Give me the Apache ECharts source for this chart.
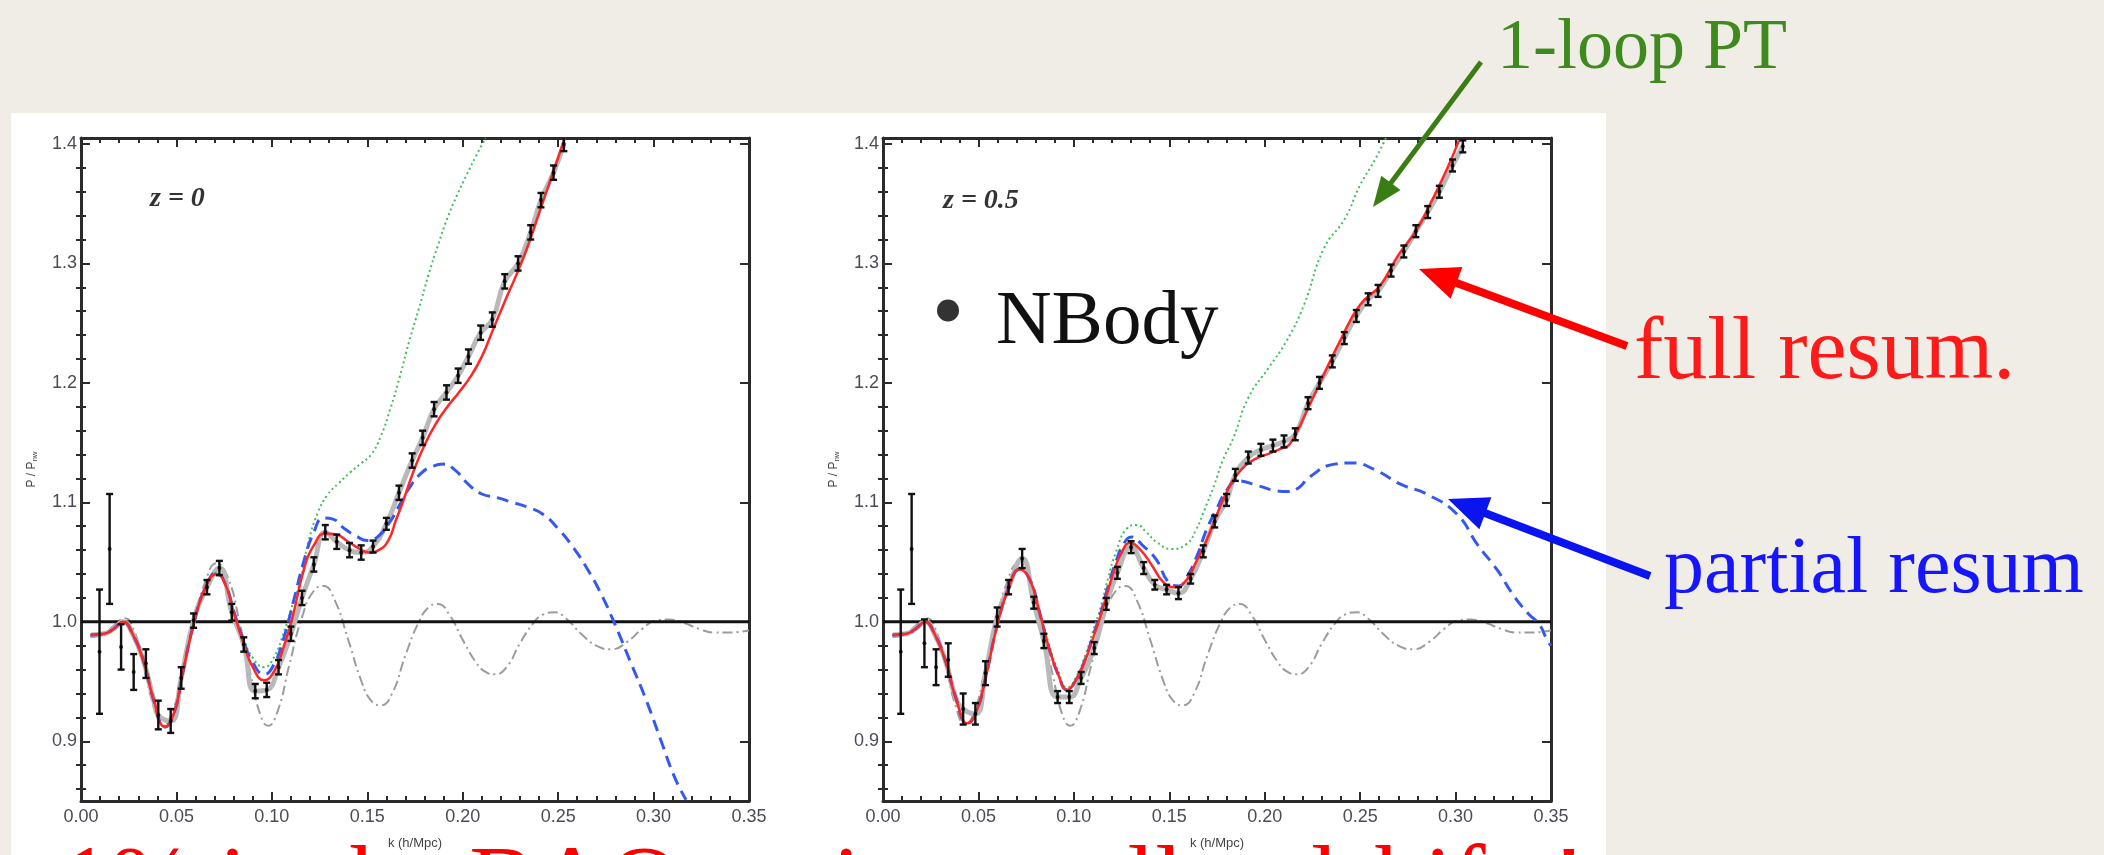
<!DOCTYPE html>
<html>
<head>
<meta charset="utf-8">
<script src="https://cdn.jsdelivr.net/npm/echarts@6/dist/echarts.min.js"></script>
<style>
  html, body { margin: 0; padding: 0; background: #f0ece6; }
  #chart { width: 2104px; height: 855px; }
</style>
</head>
<body>
<div id="chart"></div>
<script>
// ---- axis ticks ----
const kTickLabels = [0.00, 0.05, 0.10, 0.15, 0.20, 0.25, 0.30, 0.35];
const yMajorTicks = [0.9, 1.0, 1.1, 1.2, 1.3, 1.4];
const yMinorTicks = [0.86, 0.88, 0.92, 0.94, 0.96, 0.98, 1.02, 1.04, 1.06, 1.08,
                     1.12, 1.14, 1.16, 1.18, 1.22, 1.24, 1.26, 1.28, 1.32, 1.34, 1.36, 1.38];
const Y_MIN = 0.85, Y_MAX = 1.405;

// ---- linear-theory wiggles P_lin / P_nw (same in both panels) ----
const linearWiggles = [
  [0.005, 0.987], [0.012, 0.990], [0.018, 0.998], [0.023, 1.003], [0.028, 0.992],
  [0.033, 0.962], [0.038, 0.930], [0.043, 0.914], [0.048, 0.925], [0.053, 0.957],
  [0.059, 0.998], [0.065, 1.033], [0.071, 1.049], [0.077, 1.037], [0.083, 1.000],
  [0.089, 0.955], [0.094, 0.922], [0.098, 0.913], [0.103, 0.925], [0.109, 0.963],
  [0.116, 1.005], [0.122, 1.026], [0.127, 1.030], [0.133, 1.018], [0.140, 0.985],
  [0.147, 0.950], [0.152, 0.934], [0.157, 0.930], [0.163, 0.940], [0.170, 0.972],
  [0.177, 1.000], [0.182, 1.012], [0.187, 1.015], [0.193, 1.006], [0.200, 0.985],
  [0.207, 0.966], [0.212, 0.958], [0.217, 0.956], [0.223, 0.962], [0.230, 0.982],
  [0.237, 0.999], [0.242, 1.006], [0.248, 1.008], [0.254, 1.003], [0.262, 0.990],
  [0.270, 0.980], [0.278, 0.977], [0.286, 0.983], [0.294, 0.994], [0.301, 1.001],
  [0.308, 1.002], [0.316, 0.999], [0.324, 0.994], [0.332, 0.991], [0.340, 0.991],
  [0.350, 0.993]
];
const unityLine = [[0, 1.0], [0.35, 1.0]];

// ---- z = 0 ----
const fullResumZ0 = [
  [0.005, 0.989], [0.012, 0.990], [0.017, 0.994], [0.022, 1.000], [0.027, 0.990],
  [0.033, 0.966], [0.038, 0.935], [0.044, 0.912], [0.049, 0.925], [0.053, 0.955],
  [0.059, 0.998], [0.065, 1.028], [0.071, 1.040], [0.076, 1.030], [0.080, 1.008],
  [0.085, 0.983], [0.090, 0.962], [0.096, 0.951], [0.101, 0.958], [0.106, 0.978],
  [0.111, 1.005], [0.117, 1.045], [0.122, 1.064], [0.128, 1.074], [0.134, 1.073],
  [0.140, 1.067], [0.146, 1.061], [0.151, 1.058], [0.156, 1.060], [0.161, 1.068],
  [0.165, 1.085], [0.169, 1.102], [0.174, 1.125], [0.180, 1.148], [0.186, 1.166],
  [0.192, 1.180], [0.198, 1.192], [0.204, 1.205], [0.210, 1.222], [0.216, 1.245],
  [0.222, 1.268], [0.228, 1.290], [0.234, 1.314], [0.240, 1.342], [0.246, 1.370],
  [0.2535, 1.405]
];
const oneLoopZ0 = [
  [0.005, 0.989], [0.012, 0.990], [0.017, 0.994], [0.022, 1.000], [0.027, 0.990],
  [0.033, 0.966], [0.038, 0.935], [0.044, 0.913], [0.049, 0.926], [0.053, 0.956],
  [0.059, 0.999], [0.065, 1.029], [0.071, 1.041], [0.076, 1.031], [0.080, 1.010],
  [0.085, 0.987], [0.090, 0.970], [0.096, 0.962], [0.101, 0.970], [0.106, 0.990],
  [0.111, 1.015], [0.115, 1.035], [0.119, 1.066], [0.124, 1.091], [0.129, 1.106],
  [0.135, 1.116], [0.141, 1.125], [0.147, 1.133], [0.152, 1.140], [0.157, 1.155],
  [0.162, 1.178], [0.167, 1.205], [0.172, 1.235], [0.177, 1.262], [0.182, 1.290],
  [0.187, 1.315], [0.192, 1.338], [0.197, 1.357], [0.202, 1.374], [0.207, 1.390],
  [0.212, 1.405]
];
const partialResumZ0 = [
  [0.005, 0.989], [0.012, 0.990], [0.017, 0.994], [0.022, 1.000], [0.027, 0.990],
  [0.033, 0.966], [0.038, 0.935], [0.044, 0.912], [0.049, 0.925], [0.053, 0.955],
  [0.059, 0.998], [0.065, 1.028], [0.071, 1.041], [0.076, 1.030], [0.080, 1.009],
  [0.085, 0.985], [0.090, 0.966], [0.096, 0.956], [0.101, 0.964], [0.106, 0.985],
  [0.111, 1.015], [0.117, 1.052], [0.122, 1.075], [0.127, 1.087], [0.132, 1.086],
  [0.138, 1.078], [0.144, 1.072], [0.150, 1.068], [0.156, 1.072], [0.162, 1.084],
  [0.167, 1.098], [0.172, 1.112], [0.178, 1.124], [0.184, 1.130], [0.190, 1.132],
  [0.196, 1.127], [0.203, 1.115], [0.210, 1.107], [0.218, 1.104], [0.226, 1.100],
  [0.234, 1.096], [0.242, 1.090], [0.250, 1.078], [0.258, 1.062], [0.265, 1.045],
  [0.272, 1.025], [0.280, 0.997], [0.288, 0.966], [0.296, 0.935], [0.304, 0.900],
  [0.311, 0.870], [0.317, 0.851]
];
// N-body measurements: [k, P/P_nw, 1-sigma]
const nbodyZ0 = [
  [0.0097, 0.975, 0.052], [0.0150, 1.061, 0.046], [0.0210, 0.979, 0.019],
  [0.0276, 0.958, 0.015], [0.0340, 0.965, 0.012], [0.0405, 0.922, 0.012],
  [0.0470, 0.917, 0.010], [0.0525, 0.953, 0.009], [0.0590, 1.001, 0.006],
  [0.0660, 1.029, 0.006], [0.0725, 1.045, 0.006], [0.0790, 1.008, 0.007],
  [0.0853, 0.981, 0.006], [0.0913, 0.942, 0.006], [0.0973, 0.943, 0.006],
  [0.1035, 0.962, 0.006], [0.1100, 0.990, 0.006], [0.1158, 1.020, 0.006],
  [0.1220, 1.048, 0.006], [0.1280, 1.075, 0.006], [0.1340, 1.067, 0.006],
  [0.1407, 1.060, 0.006], [0.1468, 1.058, 0.006], [0.1530, 1.063, 0.005],
  [0.1600, 1.082, 0.005], [0.1666, 1.108, 0.006], [0.1735, 1.135, 0.006],
  [0.1790, 1.154, 0.006], [0.1850, 1.178, 0.006], [0.1915, 1.192, 0.006],
  [0.1976, 1.206, 0.006], [0.2030, 1.222, 0.006], [0.2094, 1.242, 0.006],
  [0.2155, 1.253, 0.006], [0.2220, 1.285, 0.006], [0.2290, 1.300, 0.006],
  [0.2356, 1.326, 0.006], [0.2410, 1.353, 0.006], [0.2476, 1.376, 0.006],
  [0.2530, 1.400, 0.006]
];

// ---- z = 0.5 ----
const fullResumZ05 = [
  [0.005, 0.989], [0.012, 0.990], [0.017, 0.994], [0.022, 1.000], [0.027, 0.990],
  [0.033, 0.966], [0.038, 0.937], [0.0443, 0.915], [0.049, 0.925], [0.054, 0.955],
  [0.060, 0.998], [0.066, 1.029], [0.0716, 1.044], [0.077, 1.035], [0.082, 1.008],
  [0.087, 0.978], [0.092, 0.955], [0.0964, 0.943], [0.101, 0.951], [0.106, 0.968],
  [0.110, 0.986], [0.114, 1.005], [0.118, 1.027], [0.121, 1.042], [0.125, 1.058],
  [0.1295, 1.066], [0.135, 1.060], [0.141, 1.047], [0.147, 1.033], [0.1528, 1.029],
  [0.159, 1.035], [0.164, 1.050], [0.1695, 1.068], [0.1745, 1.088], [0.1793, 1.106],
  [0.1845, 1.121], [0.190, 1.131], [0.196, 1.137], [0.2026, 1.141], [0.2085, 1.145],
  [0.2126, 1.148], [0.2165, 1.158], [0.2205, 1.171], [0.2284, 1.198], [0.2394, 1.235],
  [0.2498, 1.265], [0.2607, 1.282], [0.270, 1.307], [0.2792, 1.327], [0.2874, 1.352],
  [0.2955, 1.379], [0.3018, 1.403]
];
const oneLoopZ05 = [
  [0.005, 0.989], [0.012, 0.990], [0.017, 0.994], [0.022, 1.000], [0.027, 0.990],
  [0.033, 0.966], [0.038, 0.937], [0.0443, 0.915], [0.049, 0.926], [0.054, 0.956],
  [0.060, 0.999], [0.066, 1.030], [0.0716, 1.045], [0.077, 1.036], [0.082, 1.010],
  [0.087, 0.981], [0.092, 0.958], [0.0964, 0.945], [0.101, 0.953], [0.106, 0.972],
  [0.110, 0.992], [0.114, 1.012], [0.118, 1.037], [0.122, 1.058], [0.1277, 1.078],
  [0.133, 1.081], [0.138, 1.075], [0.1432, 1.067], [0.151, 1.061], [0.159, 1.065],
  [0.164, 1.077], [0.1685, 1.094], [0.1737, 1.115], [0.178, 1.135], [0.1836, 1.154],
  [0.1914, 1.1875], [0.202, 1.2125], [0.2114, 1.235], [0.2205, 1.265], [0.231, 1.3125],
  [0.242, 1.3375], [0.2498, 1.365], [0.258, 1.3875], [0.2635, 1.405]
];
const partialResumZ05 = [
  [0.005, 0.989], [0.012, 0.990], [0.017, 0.994], [0.022, 1.000], [0.027, 0.990],
  [0.033, 0.966], [0.038, 0.937], [0.0443, 0.915], [0.049, 0.925], [0.054, 0.955],
  [0.060, 0.998], [0.066, 1.029], [0.0716, 1.044], [0.077, 1.035], [0.082, 1.008],
  [0.087, 0.978], [0.092, 0.955], [0.0964, 0.943], [0.101, 0.951], [0.106, 0.969],
  [0.110, 0.988], [0.114, 1.007], [0.118, 1.030], [0.122, 1.050], [0.126, 1.065],
  [0.1303, 1.071], [0.136, 1.064], [0.1432, 1.052], [0.1497, 1.033], [0.155, 1.030],
  [0.159, 1.037], [0.1645, 1.055], [0.1695, 1.077], [0.175, 1.095], [0.180, 1.110],
  [0.1857, 1.118], [0.1964, 1.114], [0.205, 1.110], [0.212, 1.109], [0.218, 1.1125],
  [0.2233, 1.121], [0.2366, 1.132], [0.246, 1.133], [0.258, 1.127], [0.2714, 1.115],
  [0.2848, 1.107], [0.3008, 1.090], [0.3113, 1.065], [0.322, 1.043], [0.330, 1.023],
  [0.338, 1.007], [0.3438, 0.998], [0.3479, 0.985], [0.350, 0.980]
];
const nbodyZ05 = [
  [0.0093, 0.975, 0.052], [0.0150, 1.061, 0.046], [0.0217, 0.982, 0.020],
  [0.0278, 0.962, 0.015], [0.0342, 0.968, 0.014], [0.0420, 0.927, 0.013],
  [0.0484, 0.923, 0.009], [0.0537, 0.957, 0.010], [0.0598, 1.004, 0.008],
  [0.0658, 1.029, 0.006], [0.0729, 1.053, 0.008], [0.0790, 1.016, 0.005],
  [0.0843, 0.984, 0.006], [0.0915, 0.937, 0.005], [0.0976, 0.937, 0.005],
  [0.1038, 0.953, 0.005], [0.1107, 0.978, 0.005], [0.1170, 1.015, 0.005],
  [0.1228, 1.041, 0.005], [0.1300, 1.0625, 0.005], [0.1366, 1.045, 0.005],
  [0.1424, 1.031, 0.004], [0.1486, 1.027, 0.004], [0.1548, 1.024, 0.005],
  [0.1612, 1.036, 0.004], [0.1678, 1.059, 0.005], [0.1738, 1.084, 0.005],
  [0.1800, 1.102, 0.005], [0.1846, 1.123, 0.005], [0.1914, 1.1375, 0.005],
  [0.1980, 1.144, 0.005], [0.2043, 1.1475, 0.005], [0.2101, 1.151, 0.005],
  [0.2160, 1.157, 0.005], [0.2227, 1.183, 0.005], [0.2287, 1.200, 0.005],
  [0.2354, 1.218, 0.005], [0.2417, 1.2375, 0.005], [0.2480, 1.256, 0.005],
  [0.2542, 1.270, 0.005], [0.2594, 1.277, 0.005], [0.2662, 1.294, 0.005],
  [0.2729, 1.310, 0.005], [0.2792, 1.327, 0.005], [0.2854, 1.343, 0.005],
  [0.2915, 1.360, 0.005], [0.2984, 1.382, 0.005], [0.3038, 1.398, 0.005]
];

// ---- styling ----
const FRAME = '#2b2b2b';
const TICK_TEXT = '#4a4c58';
const SANS = "'Liberation Sans', Arial, sans-serif";
const SERIF = "'Liberation Serif', 'Times New Roman', serif";
const PANEL = [{ left: 81, top: 138, width: 668, height: 666 },
               { left: 883, top: 138, width: 668, height: 666 }];
// legend marker: a filled disc sitting in the upper part of a taller box,
// so the dot lines up with the middle of the capital letters
const LEGEND_DOT = 'path://M11,0 A11,11 0 1 1 11,22 A11,11 0 1 1 11,0 Z M11,46';

function xAxesFor(gi) {
  const line = { show: true, onZero: false, lineStyle: { color: FRAME, width: 3 } };
  const tick = { show: true, inside: true, length: 9, lineStyle: { color: FRAME, width: 2 } };
  const minor = { show: true, splitNumber: 5, length: 5, lineStyle: { color: FRAME, width: 2 } };
  const base = { gridIndex: gi, type: 'value', min: kTickLabels[0], max: kTickLabels[kTickLabels.length - 1],
                 interval: 0.05, splitLine: { show: false }, minorSplitLine: { show: false },
                 axisLine: line, axisTick: tick, minorTick: minor };
  return [
    Object.assign({}, base, {
      position: 'bottom',
      axisLabel: { formatter: v => v.toFixed(2), fontSize: 18, color: TICK_TEXT, margin: 7, fontFamily: SANS },
      name: 'k (h/Mpc)', nameLocation: 'middle', nameGap: 36,
      nameTextStyle: { fontSize: 13, color: '#444', fontFamily: SANS }
    }),
    Object.assign({}, base, { position: 'top', axisLabel: { show: false } })
  ];
}

function yAxesFor(gi) {
  const line = { show: true, onZero: false, lineStyle: { color: FRAME, width: 3 } };
  const base = { gridIndex: gi, type: 'value', min: Y_MIN, max: Y_MAX, splitLine: { show: false } };
  const major = { show: true, inside: true, length: 9, customValues: yMajorTicks, lineStyle: { color: FRAME, width: 2 } };
  const minor = { show: true, inside: true, length: 5, customValues: yMinorTicks, lineStyle: { color: FRAME, width: 2 } };
  return [
    Object.assign({}, base, {
      position: 'left', axisLine: line, axisTick: major,
      axisLabel: { customValues: yMajorTicks, formatter: v => v.toFixed(1), fontSize: 18,
                   color: TICK_TEXT, margin: 4, fontFamily: SANS },
      name: 'P / P{s|nw}', nameLocation: 'middle', nameGap: 42, nameRotate: 90,
      nameTextStyle: { fontSize: 12, color: '#444', fontFamily: SANS,
                       rich: { s: { fontSize: 8, color: '#444', padding: [6, 0, 0, 0] } } }
    }),
    Object.assign({}, base, { position: 'left', axisLine: { show: false }, axisTick: minor, axisLabel: { show: false } }),
    Object.assign({}, base, { position: 'right', axisLine: line, axisTick: major, axisLabel: { show: false } }),
    Object.assign({}, base, { position: 'right', axisLine: { show: false }, axisTick: minor, axisLabel: { show: false } })
  ];
}

function errorBar(params, api) {
  const k = api.value(0), p = api.value(1), s = api.value(2);
  const hi = api.coord([k, p + s]);
  const lo = api.coord([k, p - s]);
  const cap = 3.5;
  const st = { stroke: '#111', lineWidth: 2.4 };
  return {
    type: 'group',
    children: [
      { type: 'line', shape: { x1: hi[0], y1: hi[1], x2: lo[0], y2: lo[1] }, style: st },
      { type: 'line', shape: { x1: hi[0] - cap, y1: hi[1], x2: hi[0] + cap, y2: hi[1] }, style: st },
      { type: 'line', shape: { x1: lo[0] - cap, y1: lo[1], x2: lo[0] + cap, y2: lo[1] }, style: st }
    ]
  };
}

function panelSeries(gi, full, oneLoop, partial, nbody) {
  const xi = gi * 2, yi = gi * 4;
  const ax = { xAxisIndex: xi, yAxisIndex: yi };
  const lineBase = Object.assign({ type: 'line', showSymbol: false, symbol: 'none', silent: true, clip: true }, ax);
  // smooth grey curve through the N-body points above the first trough
  const nbodyCurve = full.filter(d => d[0] < 0.04).concat(nbody.filter(d => d[0] >= 0.04).map(d => [d[0], d[1]]));
  return [
    Object.assign({}, lineBase, { name: 'linear', data: linearWiggles, smooth: true, z: 2,
      lineStyle: { color: '#9c9c9c', width: 2, type: [10, 4, 2, 4] } }),
    Object.assign({}, lineBase, { name: 'unity', data: unityLine, z: 3,
      lineStyle: { color: '#111', width: 3 } }),
    Object.assign({}, lineBase, { name: 'nbody-curve', data: nbodyCurve, smooth: true, z: 3,
      lineStyle: { color: '#b9b9b9', width: 5 } }),
    Object.assign({}, lineBase, { name: '1-loop PT', data: oneLoop, smooth: true, z: 4,
      lineStyle: { color: '#3fc05a', width: 2, type: [2, 3] } }),
    Object.assign({}, lineBase, { name: 'partial resum', data: partial, smooth: true, z: 4,
      lineStyle: { color: '#3558f0', width: 3, type: [12, 7] } }),
    Object.assign({}, lineBase, { name: 'full resum.', data: full, smooth: true, z: 5,
      lineStyle: { color: '#ff2626', width: 2.5 } }),
    Object.assign({ type: 'custom', name: 'NBody-err', renderItem: errorBar, data: nbody,
      encode: { x: 0, y: 1 }, z: 6, silent: true, clip: true }, ax),
    Object.assign({ type: 'scatter', name: 'NBody', data: nbody.map(d => [d[0], d[1]]),
      symbol: 'circle', symbolSize: 4, itemStyle: { color: '#000' }, z: 7, silent: true }, ax)
  ];
}

function arrow(x1, y1, x2, y2, color, w, headLen, headW) {
  const dx = x2 - x1, dy = y2 - y1, L = Math.hypot(dx, dy);
  const ux = dx / L, uy = dy / L, px = -uy, py = ux;
  const bx = x2 - ux * headLen, by = y2 - uy * headLen;
  return [
    { type: 'line', z: 100, silent: true, shape: { x1: x1, y1: y1, x2: bx + ux * 2, y2: by + uy * 2 },
      style: { stroke: color, lineWidth: w } },
    { type: 'polygon', z: 100, silent: true,
      shape: { points: [[x2, y2], [bx + px * headW / 2, by + py * headW / 2], [bx - px * headW / 2, by - py * headW / 2]] },
      style: { fill: color } }
  ];
}

function label(text, x, y, color, size) {
  return { type: 'text', z: 100, silent: true, x: x, y: y,
           style: { text: text, fill: color, font: size + 'px ' + SERIF, textVerticalAlign: 'middle' } };
}

const chart = echarts.init(document.getElementById('chart'), null, { renderer: 'canvas' });
chart.setOption({
  backgroundColor: '#f0ece6',
  animation: false,
  grid: PANEL.map(p => Object.assign({ containLabel: false }, p)),
  xAxis: xAxesFor(0).concat(xAxesFor(1)),
  yAxis: yAxesFor(0).concat(yAxesFor(1)),
  title: [
    { text: 'z = 0', left: 145, top: 180,
      textStyle: { fontFamily: SERIF, fontStyle: 'italic', fontWeight: 'bold', fontSize: 28, color: '#333' } },
    { text: 'z = 0.5', left: 938, top: 182,
      textStyle: { fontFamily: SERIF, fontStyle: 'italic', fontWeight: 'bold', fontSize: 28, color: '#333' } }
  ],
  legend: {
    data: [{ name: 'NBody', icon: LEGEND_DOT }],
    left: 937, top: 284, padding: 0, selectedMode: false,
    itemWidth: 22, itemHeight: 46,
    textStyle: { fontFamily: SERIF, fontSize: 77, color: '#111', padding: [0, 0, 0, 32] }
  },
  graphic: [
    { type: 'rect', z: -10, silent: true, shape: { x: 11, y: 113, width: 1595, height: 742 }, style: { fill: '#ffffff' } },
    label('1-loop PT', 1497, 49, '#3f8a1e', 72),
    label('full resum.', 1634, 355, '#ff1a1a', 88),
    label('partial resum', 1664, 571, '#1515ff', 80),
    label('1% in the BAO region at all redshifts!', 61, 888, '#ff0000', 100)
  ].concat(
    arrow(1481, 62, 1373, 207, '#3a7d12', 5, 30, 24),
    arrow(1627, 346, 1419, 269, '#ff0000', 8, 40, 34),
    arrow(1650, 576, 1448, 499, '#0a14f0', 8, 40, 34)
  ),
  series: panelSeries(0, fullResumZ0, oneLoopZ0, partialResumZ0, nbodyZ0)
    .concat(panelSeries(1, fullResumZ05, oneLoopZ05, partialResumZ05, nbodyZ05))
});
</script>
</body>
</html>
